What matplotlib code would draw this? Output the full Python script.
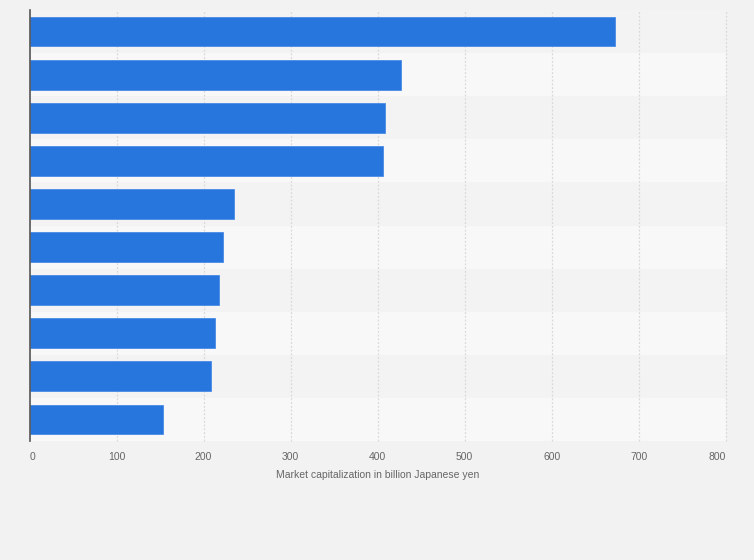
import matplotlib
matplotlib.use("Agg")
import matplotlib.pyplot as plt
import numpy as np

categories = ["Company 1", "Company 2", "Company 3", "Company 4", "Company 5",
              "Company 6", "Company 7", "Company 8", "Company 9", "Company 10"]
values = [673, 427, 409, 406, 235, 222, 218, 213, 209, 153]
xticks = [0, 100, 200, 300, 400, 500, 600, 700, 800]
xlabel = "Market capitalization in billion Japanese yen"

plt.rcParams["font.family"] = ["Liberation Sans", "DejaVu Sans"]

fig = plt.figure(figsize=(7.54, 5.6), dpi=100, facecolor="#f2f2f2")
W, H = 754, 560
left, right, top, bottom = 29.5, 725.7, 10, 441
ax = fig.add_axes([left / W, 1 - bottom / H, (right - left) / W, (bottom - top) / H])
ax.set_facecolor("#f2f2f2")

n = len(categories)
y = np.arange(n)
for i in range(n):
    ax.axhspan(i - 0.5, i + 0.5, color="#f3f3f3" if i % 2 == 0 else "#f8f8f8", zorder=0, lw=0)

ax.barh(y, values, height=0.69, color="#2776dd", edgecolor="#4a8ae6", linewidth=0.6, zorder=3)

ax.set_xlim(0, 800)
ax.set_ylim(n - 0.5, -0.5)
ax.set_xticks(xticks)
ax.set_xticklabels([str(t) for t in xticks])
ax.set_yticks([])
for t in xticks[1:]:
    ax.axvline(t, color="#d9d9d9", linestyle=(0, (1.5, 1.5)), linewidth=0.9, zorder=1, clip_on=False)
ax.tick_params(axis="x", length=0, pad=8, labelsize=7.5, labelcolor="#666666")
labels = ax.get_xticklabels()
labels[0].set_horizontalalignment("left")
labels[-1].set_horizontalalignment("right")
for s in ["top", "right", "bottom"]:
    ax.spines[s].set_visible(False)
ax.spines["left"].set_color("#555555")
ax.spines["left"].set_linewidth(1.2)
ax.spines["left"].set_zorder(4)
ax.set_xlabel(xlabel, fontsize=7.5, color="#666666", labelpad=6)

fig.savefig("out.png", dpi=100, facecolor=fig.get_facecolor())
